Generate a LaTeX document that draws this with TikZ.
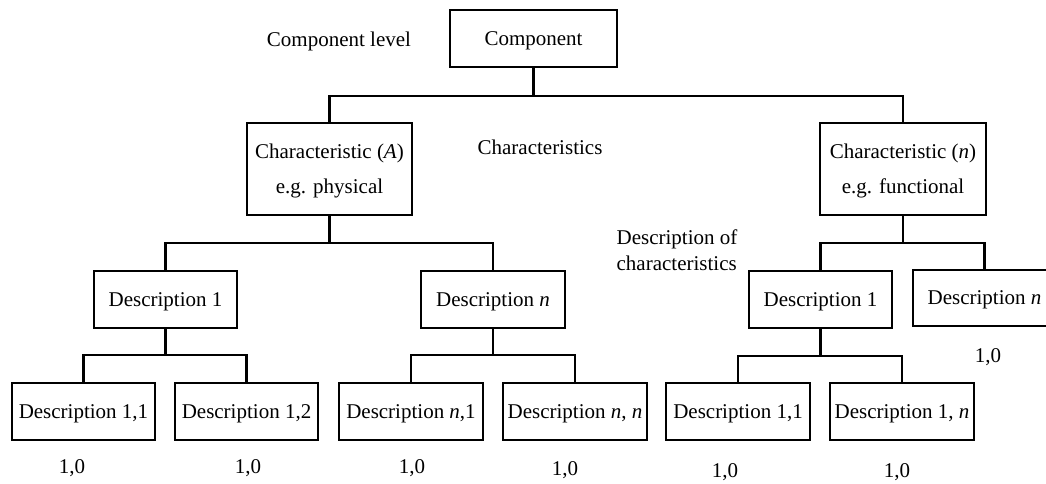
\documentclass[tikz,border=0pt]{standalone}
\usepackage{fontspec}
\setmainfont{Liberation Serif}
\begin{document}
\begin{tikzpicture}[x=1pt,y=-1pt,
  box/.style={draw,line width=2.7pt,inner sep=0pt,align=center,text depth=-1.2pt,font=\fontsize{21}{35}\selectfont},
  lbl/.style={inner sep=0pt,align=left,font=\fontsize{21}{26}\selectfont},
  conn/.style={line width=2.7pt}]
\useasboundingbox (0,0) rectangle (1046,483);
\clip (0,0) rectangle (1046,483);
% top
\node[box,minimum width=167pt,minimum height=57pt] (comp) at (533.5,38.5) {Component};
\node[lbl] (complevel) at (339,41) {Component level};
% characteristics
\node[box,minimum width=165pt,minimum height=92pt] (charA) at (329.5,169) {Characteristic (\textit{A})\\e.g. physical};
\node[box,minimum width=166pt,minimum height=92pt] (charN) at (903,169) {Characteristic (\textit{n})\\e.g. functional};
\node[lbl] (chars) at (540,147) {Characteristics};
\node[lbl] (descof) at (677,250) {Description of\\characteristics};
% descriptions
\node[box,minimum width=143pt,minimum height=57pt] (d1L) at (165.5,299.5) {Description 1};
\node[box,minimum width=144pt,minimum height=57pt] (dnL) at (493,299.5) {Description \textit{n}};
\node[box,minimum width=143pt,minimum height=57pt] (d1R) at (820.5,299.5) {Description 1};
\node[box,minimum width=143pt,minimum height=56pt] (dnR) at (984.5,298) {Description \textit{n}};
% bottom
\node[box,minimum width=143pt,minimum height=57pt] (d11) at (83.5,411.5) {Description 1,1};
\node[box,minimum width=143pt,minimum height=57pt] (d12) at (246.5,411.5) {Description 1,2};
\node[box,minimum width=144pt,minimum height=57pt] (dn1) at (411,411.5) {Description \textit{n},1};
\node[box,minimum width=144pt,minimum height=57pt] (dnn) at (575,411.5) {Description \textit{n}, \textit{n}};
\node[box,minimum width=144pt,minimum height=57pt] (d11R) at (738,411.5) {Description 1,1};
\node[box,minimum width=144pt,minimum height=57pt] (d1nR) at (902,411.5) {Description 1, \textit{n}};
% values
\node[lbl] (v1) at (72,468) {1,0};
\node[lbl] (v2) at (248,468) {1,0};
\node[lbl] (v3) at (412,468) {1,0};
\node[lbl] (v4) at (565,470) {1,0};
\node[lbl] (v5) at (725,472) {1,0};
\node[lbl] (v6) at (897,472) {1,0};
\node[lbl] (v7) at (988,357) {1,0};
% connectors
\coordinate (b0) at (comp.south |- 0,96);
\draw[conn] (comp.south) -- (b0) -| (charA.north);
\draw[conn] (b0) -| (charN.north);
\coordinate (b1) at (charA.south |- 0,243);
\draw[conn] (charA.south) -- (b1) -| (d1L.north);
\draw[conn] (b1) -| (dnL.north);
\coordinate (b2) at (charN.south |- 0,243);
\draw[conn] (charN.south) -- (b2) -| (d1R.north);
\draw[conn] (b2) -| (dnR.north);
\coordinate (b3) at (d1L.south |- 0,355);
\draw[conn] (d1L.south) -- (b3) -| (d11.north);
\draw[conn] (b3) -| (d12.north);
\coordinate (b4) at (dnL.south |- 0,355);
\draw[conn] (dnL.south) -- (b4) -| (dn1.north);
\draw[conn] (b4) -| (dnn.north);
\coordinate (b5) at (d1R.south |- 0,356);
\draw[conn] (d1R.south) -- (b5) -| (d11R.north);
\draw[conn] (b5) -| (d1nR.north);
\end{tikzpicture}
\end{document}
